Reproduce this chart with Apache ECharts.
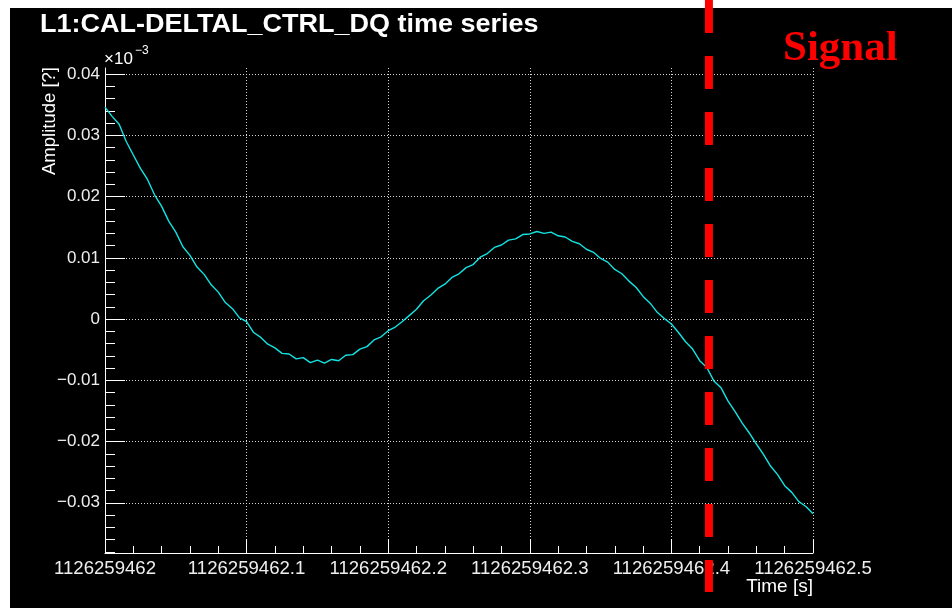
<!DOCTYPE html>
<html><head><meta charset="utf-8">
<script src="https://cdn.jsdelivr.net/npm/echarts@6/dist/echarts.min.js"></script>
<style>html,body{margin:0;padding:0;background:#fff}#c{width:952px;height:608px}</style>
</head><body><div id="c"></div>
<script>
// ---------- data ----------
const gpsBase = 1126259462;
const timeOffsets = [
  0.000,0.005,0.010,0.015,0.020,0.025,0.030,0.035,0.040,0.045,
  0.050,0.055,0.060,0.065,0.070,0.075,0.080,0.085,0.090,0.095,
  0.100,0.105,0.110,0.115,0.120,0.125,0.130,0.135,0.140,0.145,
  0.150,0.155,0.160,0.165,0.170,0.175,0.180,0.185,0.190,0.195,
  0.200,0.205,0.210,0.215,0.220,0.225,0.230,0.235,0.240,0.245,
  0.250,0.255,0.260,0.265,0.270,0.275,0.280,0.285,0.290,0.295,
  0.300,0.305,0.310,0.315,0.320,0.325,0.330,0.335,0.340,0.345,
  0.350,0.355,0.360,0.365,0.370,0.375,0.380,0.385,0.390,0.395,
  0.400,0.405,0.410,0.415,0.420,0.425,0.430,0.435,0.440,0.445,
  0.450,0.455,0.460,0.465,0.470,0.475,0.480,0.485,0.490,0.495,
  0.500
];
const amplitude = [
  0.0346,0.0331,0.0318,0.0290,0.0268,0.0246,0.0228,0.0203,0.0184,0.0160,
  0.0142,0.0118,0.0104,0.0085,0.0073,0.0056,0.0044,0.0027,0.0017,0.0002,
  -0.0004,-0.0022,-0.0030,-0.0041,-0.0047,-0.0056,-0.0057,-0.0065,-0.0063,-0.0071,
  -0.0067,-0.0072,-0.0066,-0.0068,-0.0059,-0.0058,-0.0049,-0.0045,-0.0034,-0.0029,
  -0.0019,-0.0013,-0.0004,0.0006,0.0016,0.0030,0.0039,0.0050,0.0057,0.0068,
  0.0074,0.0084,0.0089,0.0101,0.0107,0.0117,0.0121,0.0129,0.0131,0.0138,
  0.0139,0.0143,0.0140,0.0142,0.0136,0.0134,0.0127,0.0123,0.0114,0.0109,
  0.0099,0.0093,0.0081,0.0074,0.0062,0.0052,0.0037,0.0026,0.0011,0.0001,
  -0.0008,-0.0022,-0.0037,-0.0049,-0.0068,-0.0079,-0.0101,-0.0112,-0.0134,-0.0151,
  -0.0170,-0.0186,-0.0204,-0.0221,-0.0240,-0.0254,-0.0272,-0.0283,-0.0298,-0.0306,
  -0.0318
];
const xRange = [0, 0.5];
const xTickStep = 0.1;
const yRange = [-0.0382, 0.0410];
const yMajorTicks = [-0.03,-0.02,-0.01,0,0.01,0.02,0.03,0.04];
const yMinorTicks = [-0.038,-0.036,-0.034,-0.032,-0.028,-0.026,-0.024,-0.022,
  -0.018,-0.016,-0.014,-0.012,-0.008,-0.006,-0.004,-0.002,
  0.002,0.004,0.006,0.008,0.012,0.014,0.016,0.018,
  0.022,0.024,0.026,0.028,0.032,0.034,0.036,0.038];
const signalTime = 0.4265;
const titleText = 'L1:CAL-DELTAL_CTRL_DQ time series';
const yAxisTitle = 'Amplitude [?]';
const xAxisTitle = 'Time [s]';
const signalLabel = 'Signal';

// ---------- chart ----------
const FONT = '"Liberation Sans", Arial, Helvetica, sans-serif';
const chart = echarts.init(document.getElementById('c'), null, {renderer: 'canvas'});
const fmtY = v => (Math.abs(v) < 1e-12 ? '0' : String(+v.toFixed(3))).replace('-', '\u2212');
const fmtX = v => (gpsBase + v).toFixed(1).replace(/\.0$/, '');
const gridLine = {show: true, lineStyle: {color: '#d8d8d8', width: 1, type: [1, 2]}};

function graphics(px) {
  const g = [
    {id: 'wTop', type: 'rect', shape: {x: 0, y: 0, width: 952, height: 8}, style: {fill: '#fff'}, z: 50},
    {id: 'wLeft', type: 'rect', shape: {x: 0, y: 0, width: 10, height: 608}, style: {fill: '#fff'}, z: 50},
    {id: 'title', type: 'text', x: 40, y: 25, scaleX: 1.08, z: 60,
      style: {text: titleText, fill: '#fff', fontFamily: FONT, fontWeight: 'bold', fontSize: 25, align: 'left', verticalAlign: 'middle'}},
    {id: 'ytitle', type: 'text', x: 50, y: 67, rotation: Math.PI / 2, z: 60,
      style: {text: yAxisTitle, fill: '#fff', fontFamily: FONT, fontSize: 18.5, align: 'right', verticalAlign: 'middle'}},
    {id: 'xtitle', type: 'text', x: 813, y: 587, z: 60,
      style: {text: xAxisTitle, fill: '#fff', fontFamily: FONT, fontSize: 19, align: 'right', verticalAlign: 'middle'}},
    {id: 'mult', type: 'text', x: 104, y: 59, z: 60,
      style: {text: '\u00d710', fill: '#fff', fontFamily: FONT, fontSize: 17, align: 'left', verticalAlign: 'middle'}},
    {id: 'multExp', type: 'text', x: 135, y: 51, z: 60,
      style: {text: '\u22123', fill: '#fff', fontFamily: FONT, fontSize: 12, align: 'left', verticalAlign: 'middle'}},
    {id: 'signalTxt', type: 'text', x: 783, y: 49, z: 60,
      style: {text: signalLabel, fill: '#ff0000', fontFamily: '"Liberation Serif", "Times New Roman", serif', fontWeight: 'bold', fontSize: 43, align: 'left', verticalAlign: 'middle'}}
  ];
  if (px != null) {
    g.push({id: 'signalLine', type: 'line', z: 100,
      shape: {x1: px, y1: 0, x2: px, y2: 592},
      style: {stroke: '#ff0000', lineWidth: 8, lineDash: [33, 23]}});
  }
  return g;
}

const option = {
  animation: false,
  backgroundColor: '#000',
  grid: {left: 105, right: 139, top: 68, bottom: 55, containLabel: false},
  xAxis: {
    type: 'value', min: xRange[0], max: xRange[1], interval: xTickStep,
    axisLine: {show: true, onZero: false, lineStyle: {color: '#fff', width: 1}},
    axisTick: {show: true, inside: true, length: 14, lineStyle: {color: '#fff'}},
    minorTick: {show: true, splitNumber: 5, length: 7, lineStyle: {color: '#fff'}},
    axisLabel: {color: '#eee', fontFamily: FONT, fontSize: 18.6, margin: 6, formatter: fmtX},
    splitLine: gridLine
  },
  yAxis: [{
    type: 'value', min: yRange[0], max: yRange[1], position: 'left',
    axisLine: {show: true, onZero: false, lineStyle: {color: '#fff', width: 1}},
    axisTick: {show: true, inside: true, length: 20, customValues: yMajorTicks, lineStyle: {color: '#fff'}},
    axisLabel: {customValues: yMajorTicks, color: '#eee', fontFamily: FONT, fontSize: 17, margin: 5, formatter: fmtY},
    splitLine: gridLine
  }, {
    type: 'value', min: yRange[0], max: yRange[1], position: 'left', offset: 0,
    axisLine: {show: false}, axisLabel: {show: false}, splitLine: {show: false},
    axisTick: {show: true, inside: true, length: 10, customValues: yMinorTicks, lineStyle: {color: '#fff'}}
  }],
  series: [{
    type: 'line', xAxisIndex: 0, yAxisIndex: 0, showSymbol: false, symbol: 'none',
    data: timeOffsets.map((t, i) => [t, amplitude[i]]),
    lineStyle: {color: '#13e3e3', width: 1.4}, z: 5
  }],
  graphic: graphics(null)
};
chart.setOption(option);
const px = chart.convertToPixel({xAxisIndex: 0}, signalTime);
chart.setOption({graphic: graphics(px)});
</script></body></html>
